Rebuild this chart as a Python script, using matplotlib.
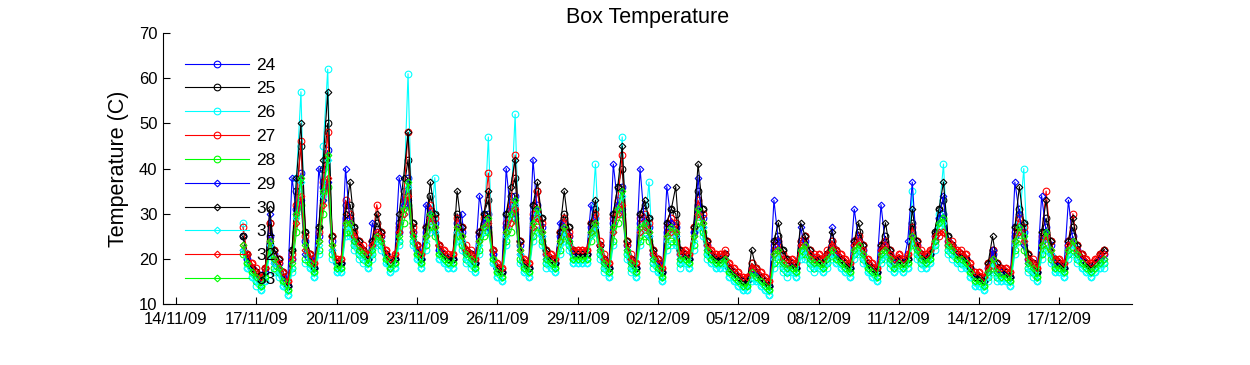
import matplotlib
matplotlib.use("Agg")
import matplotlib.pyplot as plt
import matplotlib.dates as mdates
import pandas as pd

plt.rcParams['font.family'] = ['Liberation Sans', 'DejaVu Sans']

# readings every 4 hours, starting 16/11/09 12:00
start = "2009-11-16 12:00"

s24 = [25, 20, 18,
       17, 15, 17, 25, 21, 19, 16, 14, 20, 31, 39, 24,
       20, 18, 25, 36, 44, 24, 19, 19, 29, 29, 25, 23,
       22, 20, 23, 26, 25, 21, 19, 20, 26, 32, 38, 26,
       22, 20, 26, 31, 28, 22, 21, 20, 20, 28, 26, 22,
       21, 19, 25, 28, 30, 21, 18, 17, 27, 31, 34, 23,
       19, 18, 29, 32, 27, 21, 20, 19, 25, 28, 25, 21,
       21, 21, 21, 27, 29, 23, 20, 18, 28, 32, 36, 23,
       20, 18, 28, 29, 27, 21, 19, 17, 26, 28, 27, 21,
       21, 20, 26, 32, 29, 23, 21, 20, 20, 21, 18, 17,
       16, 15, 15, 18, 17, 16, 15, 14, 22, 23, 20, 19,
       19, 18, 23, 24, 21, 20, 20, 19, 21, 23, 21, 20,
       19, 18, 23, 24, 22, 19, 18, 17, 22, 23, 21, 19,
       20, 19, 20, 26, 23, 21, 20, 21, 25, 29, 30, 24,
       23, 21, 21, 20, 18, 16, 16, 15, 18, 21, 18, 17,
       17, 16, 25, 28, 26, 20, 19, 17, 24, 27, 23, 19,
       19, 18, 23, 25, 22, 20, 19, 18, 19, 20, 21]

s25 = [25, 21, 18,
       17, 15, 18, 28, 22, 20, 17, 14, 22, 35, 45, 26,
       21, 18, 27, 40, 50, 25, 19, 19, 32, 32, 27, 24,
       22, 20, 24, 28, 26, 21, 19, 20, 28, 35, 42, 28,
       23, 20, 27, 34, 30, 23, 21, 20, 20, 30, 27, 22,
       21, 19, 26, 30, 33, 22, 18, 17, 30, 34, 38, 24,
       19, 18, 32, 35, 29, 22, 20, 19, 26, 30, 27, 22,
       21, 21, 21, 28, 31, 23, 20, 18, 30, 36, 40, 24,
       20, 18, 30, 32, 29, 22, 20, 17, 28, 31, 30, 22,
       21, 20, 27, 35, 31, 24, 21, 20, 20, 21, 18, 17,
       16, 15, 15, 19, 18, 16, 15, 14, 24, 25, 22, 20,
       19, 18, 24, 25, 22, 20, 20, 19, 21, 24, 22, 20,
       19, 18, 24, 26, 23, 19, 18, 17, 23, 25, 22, 20,
       20, 19, 20, 28, 24, 21, 20, 21, 26, 31, 33, 25,
       23, 21, 21, 20, 18, 16, 16, 15, 19, 22, 19, 18,
       17, 16, 27, 31, 28, 21, 19, 17, 26, 29, 24, 20,
       19, 18, 24, 27, 23, 21, 19, 18, 19, 21, 22]

s26 = [28, 18, 16,
       14, 13, 15, 21, 17, 16, 14, 12, 17, 38, 57, 19,
       18, 16, 21, 45, 62, 20, 17, 17, 25, 25, 22, 20,
       19, 18, 20, 23, 22, 19, 17, 18, 23, 32, 61, 23,
       20, 18, 22, 26, 38, 20, 19, 18, 18, 24, 22, 19,
       18, 17, 21, 26, 47, 19, 16, 15, 23, 30, 52, 19,
       17, 16, 24, 26, 23, 18, 18, 17, 21, 24, 22, 19,
       19, 19, 19, 26, 41, 20, 17, 16, 23, 32, 47, 20,
       17, 16, 23, 26, 37, 18, 17, 15, 22, 23, 23, 18,
       19, 18, 22, 27, 25, 20, 19, 18, 18, 18, 16, 15,
       14, 13, 13, 15, 15, 14, 13, 12, 18, 19, 17, 16,
       17, 16, 20, 20, 18, 17, 18, 17, 18, 20, 19, 18,
       17, 16, 20, 21, 19, 17, 16, 15, 19, 20, 18, 17,
       18, 17, 18, 35, 20, 18, 18, 19, 22, 30, 41, 21,
       20, 19, 18, 18, 16, 14, 14, 13, 15, 17, 15, 15,
       15, 14, 21, 28, 40, 17, 16, 15, 20, 22, 19, 17,
       17, 16, 20, 21, 19, 18, 17, 16, 17, 18, 18]

s27 = [27, 21, 19,
       18, 16, 18, 28, 22, 20, 17, 15, 21, 32, 46, 25,
       21, 19, 26, 37, 48, 25, 20, 20, 33, 30, 26, 24,
       23, 21, 24, 32, 26, 22, 20, 21, 27, 33, 48, 27,
       23, 21, 27, 32, 29, 23, 22, 21, 21, 29, 27, 23,
       22, 20, 26, 29, 39, 22, 19, 18, 28, 32, 43, 24,
       20, 19, 30, 35, 28, 22, 21, 20, 26, 29, 26, 22,
       22, 22, 22, 28, 30, 24, 21, 19, 29, 33, 43, 24,
       21, 19, 29, 30, 28, 22, 20, 18, 27, 29, 28, 22,
       22, 21, 27, 33, 30, 24, 22, 21, 21, 22, 19, 18,
       17, 16, 16, 19, 18, 17, 16, 15, 23, 24, 21, 20,
       20, 19, 24, 25, 22, 21, 21, 20, 22, 24, 22, 21,
       20, 19, 24, 25, 23, 20, 19, 18, 23, 24, 22, 20,
       21, 20, 21, 27, 24, 22, 21, 22, 24, 25, 26, 23,
       24, 22, 22, 21, 19, 17, 17, 16, 19, 22, 19, 18,
       18, 17, 26, 29, 27, 21, 20, 18, 25, 35, 24, 20,
       20, 19, 24, 30, 23, 21, 20, 19, 20, 21, 22]

s28 = [21, 19, 17,
       15, 14, 16, 22, 18, 17, 15, 13, 18, 26, 32, 20,
       19, 17, 22, 30, 36, 21, 18, 18, 26, 26, 23, 21,
       20, 19, 21, 24, 23, 20, 18, 19, 24, 28, 32, 24,
       21, 19, 23, 27, 25, 21, 20, 19, 19, 25, 23, 20,
       19, 18, 22, 25, 26, 20, 17, 16, 24, 26, 29, 20,
       18, 17, 25, 27, 24, 19, 19, 18, 22, 25, 23, 20,
       20, 20, 20, 24, 26, 21, 18, 17, 24, 28, 30, 21,
       18, 17, 24, 25, 24, 19, 18, 16, 23, 24, 24, 19,
       20, 19, 23, 28, 26, 21, 20, 19, 19, 19, 17, 16,
       15, 14, 14, 16, 16, 15, 14, 13, 19, 20, 18, 17,
       18, 17, 21, 21, 19, 18, 19, 18, 19, 21, 20, 19,
       18, 17, 21, 22, 20, 18, 17, 16, 20, 21, 19, 18,
       19, 18, 19, 23, 21, 19, 19, 20, 23, 27, 29, 22,
       21, 20, 19, 19, 17, 15, 15, 14, 16, 18, 16, 16,
       16, 15, 22, 24, 22, 18, 17, 16, 21, 23, 20, 18,
       18, 17, 21, 22, 20, 19, 18, 17, 18, 19, 19]

s29 = [22, 20, 18,
       16, 15, 17, 30, 19, 18, 16, 14, 38, 30, 33, 21,
       20, 18, 40, 33, 37, 22, 19, 19, 40, 28, 24, 22,
       21, 20, 28, 25, 24, 21, 19, 20, 38, 32, 33, 25,
       22, 20, 32, 30, 26, 22, 21, 20, 20, 26, 30, 21,
       20, 19, 34, 28, 27, 21, 18, 17, 40, 30, 30, 21,
       19, 18, 42, 30, 25, 20, 20, 19, 28, 26, 24, 21,
       21, 21, 21, 32, 27, 22, 19, 18, 41, 32, 31, 22,
       19, 18, 40, 28, 25, 20, 19, 17, 36, 28, 25, 20,
       21, 20, 26, 38, 27, 22, 21, 20, 20, 20, 18, 17,
       16, 15, 15, 17, 17, 16, 15, 14, 33, 24, 19, 18,
       19, 18, 27, 22, 20, 19, 20, 19, 20, 27, 21, 20,
       19, 18, 31, 24, 21, 19, 18, 17, 32, 23, 20, 19,
       20, 19, 24, 37, 22, 20, 20, 21, 24, 29, 34, 23,
       22, 21, 20, 20, 18, 16, 16, 15, 17, 22, 17, 17,
       17, 16, 37, 30, 23, 19, 18, 17, 34, 26, 21, 19,
       19, 18, 33, 24, 21, 20, 19, 18, 19, 20, 20]

s30 = [25, 21, 18,
       17, 15, 18, 31, 22, 20, 17, 14, 22, 38, 50, 26,
       21, 18, 27, 42, 57, 25, 19, 19, 30, 37, 27, 24,
       22, 20, 24, 30, 26, 21, 19, 20, 30, 38, 48, 28,
       23, 20, 27, 37, 30, 23, 21, 20, 20, 35, 27, 22,
       21, 19, 26, 30, 35, 22, 18, 17, 30, 36, 42, 24,
       19, 18, 32, 37, 29, 22, 20, 19, 26, 35, 27, 22,
       21, 21, 21, 28, 33, 23, 20, 18, 30, 36, 45, 24,
       20, 18, 30, 33, 29, 22, 20, 17, 28, 31, 36, 22,
       21, 20, 27, 41, 31, 24, 21, 20, 20, 21, 18, 17,
       16, 15, 15, 22, 18, 16, 15, 14, 24, 28, 22, 20,
       19, 18, 28, 25, 22, 20, 20, 19, 21, 26, 22, 20,
       19, 18, 24, 28, 23, 19, 18, 17, 23, 28, 22, 20,
       20, 19, 20, 31, 24, 21, 20, 21, 26, 31, 37, 25,
       23, 21, 21, 20, 18, 16, 16, 15, 19, 25, 19, 18,
       17, 16, 27, 36, 28, 21, 19, 17, 26, 33, 24, 20,
       19, 18, 24, 29, 23, 21, 19, 18, 19, 21, 22]

s31 = [22, 18, 16,
       15, 13, 15, 23, 19, 17, 14, 12, 18, 29, 37, 22,
       18, 16, 23, 34, 42, 22, 17, 17, 27, 27, 23, 21,
       20, 18, 21, 24, 23, 19, 17, 18, 24, 30, 36, 24,
       20, 18, 24, 29, 26, 20, 19, 18, 18, 26, 24, 20,
       19, 17, 23, 26, 28, 19, 16, 15, 25, 29, 32, 21,
       17, 16, 27, 30, 25, 19, 18, 17, 23, 26, 23, 19,
       19, 19, 19, 25, 27, 21, 18, 16, 26, 30, 34, 21,
       18, 16, 26, 27, 25, 19, 17, 15, 24, 26, 25, 19,
       19, 18, 24, 30, 27, 21, 19, 18, 18, 19, 16, 15,
       14, 13, 13, 16, 15, 14, 13, 12, 20, 21, 18, 17,
       17, 16, 21, 22, 19, 18, 18, 17, 19, 21, 19, 18,
       17, 16, 21, 22, 20, 17, 16, 15, 20, 21, 19, 17,
       18, 17, 18, 24, 21, 19, 18, 19, 23, 27, 28, 22,
       21, 19, 19, 18, 16, 14, 14, 13, 16, 19, 16, 15,
       15, 14, 23, 26, 24, 18, 17, 15, 22, 25, 21, 17,
       17, 16, 21, 23, 20, 18, 17, 16, 17, 18, 19]

s32 = [23, 21, 19,
       17, 16, 18, 24, 20, 19, 17, 15, 20, 28, 34, 22,
       21, 19, 24, 32, 38, 23, 20, 20, 28, 28, 25, 23,
       22, 21, 23, 26, 25, 22, 20, 21, 26, 30, 34, 26,
       23, 21, 25, 29, 27, 23, 22, 21, 21, 27, 25, 22,
       21, 20, 24, 27, 28, 22, 19, 18, 26, 28, 31, 22,
       20, 19, 27, 29, 26, 21, 21, 20, 24, 27, 25, 22,
       22, 22, 22, 26, 28, 23, 20, 19, 26, 30, 32, 23,
       20, 19, 26, 27, 26, 21, 20, 18, 25, 26, 26, 21,
       22, 21, 25, 30, 28, 23, 22, 21, 21, 21, 19, 18,
       17, 16, 16, 18, 18, 17, 16, 15, 21, 22, 20, 19,
       20, 19, 23, 23, 21, 20, 21, 20, 21, 23, 22, 21,
       20, 19, 23, 24, 22, 20, 19, 18, 22, 23, 21, 20,
       21, 20, 21, 25, 23, 21, 21, 22, 25, 26, 26, 24,
       23, 22, 21, 21, 19, 17, 17, 16, 18, 20, 18, 18,
       18, 17, 24, 26, 24, 20, 19, 18, 23, 25, 22, 20,
       20, 19, 23, 24, 22, 21, 20, 19, 20, 21, 21]

s33 = [23, 19, 17,
       16, 14, 16, 24, 20, 18, 15, 13, 19, 30, 38, 23,
       19, 17, 24, 35, 43, 23, 18, 18, 28, 28, 24, 22,
       21, 19, 22, 25, 24, 20, 18, 19, 25, 31, 37, 25,
       21, 19, 25, 30, 27, 21, 20, 19, 19, 27, 25, 21,
       20, 18, 24, 27, 29, 20, 17, 16, 26, 30, 33, 22,
       18, 17, 28, 31, 26, 20, 19, 18, 24, 27, 24, 20,
       20, 20, 20, 26, 28, 22, 19, 17, 27, 31, 35, 22,
       19, 17, 27, 28, 26, 20, 18, 16, 25, 27, 26, 20,
       20, 19, 25, 31, 28, 22, 20, 19, 19, 20, 17, 16,
       15, 14, 14, 17, 16, 15, 14, 13, 21, 22, 19, 18,
       18, 17, 22, 23, 20, 19, 19, 18, 20, 22, 20, 19,
       18, 17, 22, 23, 21, 18, 17, 16, 21, 22, 20, 18,
       19, 18, 19, 25, 22, 20, 19, 20, 24, 28, 29, 23,
       22, 20, 20, 19, 17, 15, 15, 14, 17, 20, 17, 16,
       16, 15, 24, 27, 25, 19, 18, 16, 23, 26, 22, 18,
       18, 17, 22, 24, 21, 19, 18, 17, 18, 19, 20]

labels = ['24', '25', '26', '27', '28', '29', '30', '31', '32', '33']
series = [s24, s25, s26, s27, s28, s29, s30, s31, s32, s33]
colors = ['#0000ff', '#000000', '#00ffff', '#ff0000', '#00ff00',
          '#0000ff', '#000000', '#00ffff', '#ff0000', '#00ff00']
markers = ['o'] * 5 + ['D'] * 5
msizes = [4.8] * 5 + [3.4] * 5

times = pd.date_range(start, periods=len(s24), freq='4h')

fig = plt.figure(figsize=(12.5, 3.65), dpi=100)
ax = fig.add_axes([0.1304, 0.167, 0.7752, 0.7425])

for vals, lab, col, mk, ms in zip(series, labels, colors, markers, msizes):
    ax.plot(times, vals, color=col, lw=0.8, marker=mk, ms=ms,
            mfc='none', mec=col, mew=0.8, label=lab)

ax.set_xlim(pd.Timestamp('2009-11-13 12:20'), pd.Timestamp('2009-12-19 17:00'))
ax.set_ylim(10, 70)
ax.set_yticks(range(10, 71, 10))
ax.set_xticks(pd.date_range('2009-11-14', periods=12, freq='3D'))
ax.xaxis.set_major_formatter(mdates.DateFormatter('%d/%m/%y'))

for side in ['top', 'right']:
    ax.spines[side].set_visible(False)
ax.tick_params(direction='in', length=5, labelsize=12, top=False, right=False)
ax.tick_params(axis='x', pad=6)
ax.tick_params(axis='y', pad=4)

ax.set_title('Box Temperature', fontsize=15.5, pad=7)
ax.set_ylabel('Temperature (C)', fontsize=15.5, labelpad=7)

ax.legend(loc='upper left', bbox_to_anchor=(0.0227, 0.91), frameon=False,
          fontsize=12.5, handlelength=3.7, handletextpad=0.4,
          labelspacing=0.5, borderpad=0, borderaxespad=0)

fig.savefig('out.png', dpi=100)
